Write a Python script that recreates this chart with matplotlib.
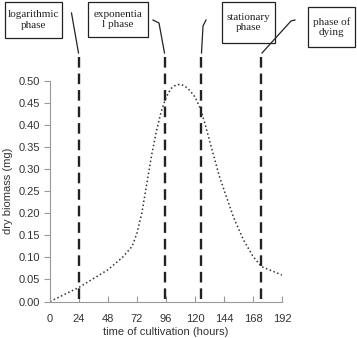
import matplotlib.pyplot as plt
from matplotlib.lines import Line2D
from matplotlib.patches import Rectangle

plt.rcParams['font.family'] = ['Liberation Sans', 'DejaVu Sans']

# growth curve
hours = [0, 24, 48, 60, 68, 72, 76, 80, 84, 88, 92, 96, 100, 104, 108, 112, 116,
         120, 124, 128, 132, 136, 140, 145, 152, 160, 168, 175, 183, 192]
biomass = [0.0, 0.032, 0.072, 0.10, 0.125, 0.155, 0.20, 0.265, 0.33, 0.385, 0.43,
           0.462, 0.482, 0.49, 0.492, 0.487, 0.477, 0.463, 0.44, 0.405, 0.365,
           0.325, 0.285, 0.245, 0.19, 0.14, 0.102, 0.079, 0.07, 0.06]

# phase boundaries (hours)
phase_bounds = [24, 95, 125, 175]
phase_names = ['logarithmic\nphase', 'exponentia\nl phase', 'stationary\nphase', 'phase of\ndying']

x_ticks = [0, 24, 48, 72, 96, 120, 144, 168, 192]
y_ticks = [0.00, 0.05, 0.10, 0.15, 0.20, 0.25, 0.30, 0.35, 0.40, 0.45, 0.50]

W, H = 357, 338
fig = plt.figure(figsize=(W / 100, H / 100), dpi=100)
ax = fig.add_axes([50 / W, 1 - 301.5 / H, 232 / W, 220.8 / H])

ax.plot(hours, biomass, linestyle=':', color='#333333', lw=1.1)

# dashed phase lines, running above the plot area
for b in phase_bounds:
    ax.plot([b, b], [0.005, 0.562], color='#222222', lw=1.7,
            dashes=(4.5, 2.5), clip_on=False)

ax.set_xlim(0, 192)
ax.set_ylim(0, 0.5)
ax.set_xticks(x_ticks)
ax.set_yticks(y_ticks)
ax.set_yticklabels([f'{v:.2f}' for v in y_ticks])
for s in ['top', 'right']:
    ax.spines[s].set_visible(False)
for s in ['left', 'bottom']:
    ax.spines[s].set_color('#999999')
    ax.spines[s].set_linewidth(0.8)
ax.tick_params(axis='x', direction='in', length=4, color='#999999',
               labelsize=8, labelcolor='#333333', pad=9)
ax.tick_params(axis='y', direction='out', length=4, color='#999999',
               labelsize=8, labelcolor='#333333', pad=3)
ax.set_xlabel('time of cultivation (hours)', fontsize=8, color='#333333', labelpad=2)
ax.set_ylabel('dry biomass (mg)', fontsize=8, color='#333333', labelpad=4)

# labelled boxes on top (pixel boxes: x0, x1, y0, y1)
boxes = [(5, 62, 2, 38), (88, 148, 2, 37), (222, 275, 2, 43), (308, 355, 7, 47)]
for (x0, x1, y0, y1), name in zip(boxes, phase_names):
    fig.add_artist(Rectangle((x0 / W, 1 - y1 / H), (x1 - x0) / W, (y1 - y0) / H,
                             transform=fig.transFigure, fill=False,
                             edgecolor='#222222', lw=0.9))
    fig.text((x0 + x1) / 2 / W, 1 - (y0 + y1) / 2 / H, name, ha='center', va='center',
             fontsize=8, family='Liberation Serif', color='#222222', linespacing=1.2)

# connectors from boxes to the dashed lines
connectors = [
    [(71.5, 13), (78.5, 53)],
    [(153, 20), (159, 23), (164.5, 53)],
    [(206, 20), (203, 26), (201.5, 53)],
    [(295, 20), (291, 21), (262, 53)],
]
for pts in connectors:
    xs = [p[0] / W for p in pts]
    ys = [1 - p[1] / H for p in pts]
    fig.add_artist(Line2D(xs, ys, transform=fig.transFigure, color='#222222', lw=0.9))

fig.savefig('out.png', dpi=100)
